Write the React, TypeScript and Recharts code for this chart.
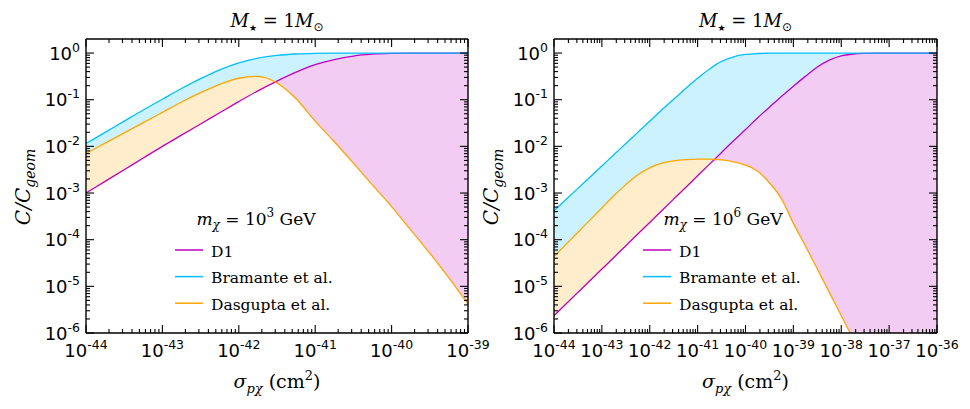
import React from 'react'
import { ComposedChart, Line, Area, XAxis, YAxis } from 'recharts'

// sigma_px grid, log10(cm^2), quarter decades
const sigmaLeft = [-44, -43.75, -43.5, -43.25, -43, -42.75, -42.5, -42.25, -42, -41.75, -41.5, -41.25, -41, -40.75, -40.5, -40.25, -40, -39.75, -39.5, -39.25, -39]
const sigmaRight = [-44, -43.75, -43.5, -43.25, -43, -42.75, -42.5, -42.25, -42, -41.75, -41.5, -41.25, -41, -40.75, -40.5, -40.25, -40, -39.75, -39.5, -39.25, -39, -38.75, -38.5, -38.25, -38, -37.75, -37.5, -37.25, -37, -36.75, -36.5, -36.25, -36]

// log10(C/Cgeom), m_chi = 1e3 GeV
const d1Left = [-3.0, -2.75, -2.5, -2.25, -2.0, -1.76, -1.52, -1.28, -1.04, -0.81, -0.6, -0.41, -0.25, -0.14, -0.065, -0.025, -0.008, -0.002, 0, 0, 0]
const bramanteLeft = [-1.94, -1.7, -1.46, -1.22, -0.99, -0.76, -0.55, -0.36, -0.21, -0.11, -0.05, -0.02, -0.007, -0.003, -0.001, 0, 0, 0, 0, 0, 0]
const dasguptaLeft = [-2.15, -1.93, -1.71, -1.49, -1.27, -1.05, -0.85, -0.67, -0.54, -0.5, -0.64, -0.98, -1.46, -1.9, -2.36, -2.83, -3.29, -3.79, -4.29, -4.82, -5.38]

// m_chi = 1e6 GeV
const d1Right = [-5.63, -5.38, -5.13, -4.88, -4.63, -4.38, -4.13, -3.88, -3.63, -3.38, -3.13, -2.88, -2.63, -2.38, -2.13, -1.88, -1.64, -1.39, -1.16, -0.93, -0.71, -0.5, -0.3, -0.15, -0.06, -0.02, -0.005, 0, 0, 0, 0, 0, 0]
const bramanteRight = [-3.38, -3.14, -2.9, -2.66, -2.42, -2.18, -1.94, -1.7, -1.46, -1.22, -0.99, -0.76, -0.54, -0.34, -0.18, -0.08, -0.03, -0.01, -0.003, 0, 0, 0, 0, 0, 0, 0, 0, 0, 0, 0, 0, 0, 0]
const dasguptaRight = [-4.36, -4.1, -3.84, -3.58, -3.32, -3.06, -2.82, -2.61, -2.46, -2.36, -2.31, -2.285, -2.275, -2.275, -2.29, -2.33, -2.4, -2.53, -2.78, -3.12, -3.65, -4.13, -4.63, -5.13, -5.63, -6.13, -6.65, -7.17, -7.69, -8.21, -8.73, -9.25, -9.77]

const decadesLeft = [-44, -43, -42, -41, -40, -39]
const decadesRight = [-44, -43, -42, -41, -40, -39, -38, -37, -36]
const decadesY = [-6, -5, -4, -3, -2, -1, 0]

const COLORS = {
  d1: '#bf00bf',
  bramante: '#00bfff',
  dasgupta: '#ffa500',
  d1Fill: '#f2ccf2',
  bramanteFill: '#ccf2ff',
  dasguptaFill: '#ffedcc',
}

const SANS = "'DejaVu Sans', sans-serif"
const SERIF = "'DejaVu Serif', serif"

const buildRows = (sig: number[], d1: number[], br: number[], dg: number[]) =>
  sig.map((s, i) => {
    const a = 10 ** d1[i]
    const b = 10 ** br[i]
    const c = 10 ** dg[i]
    return {
      x: 10 ** s,
      d1: a,
      bramante: b,
      dasgupta: c,
      blueBand: [Math.max(a, c), b],
      orangeBand: [a, Math.max(a, c)],
      magentaBand: [Math.min(a, c), a],
    }
  })

// majors plus 2..9 minors
const logTicks = (decades: number[]) => {
  const out: number[] = []
  decades.forEach((e, i) => {
    out.push(10 ** e)
    if (i < decades.length - 1) for (let m = 2; m <= 9; m++) out.push(m * 10 ** e)
  })
  return out
}

const isMajor = (v: number) => {
  const e = Math.log10(v)
  return Math.abs(e - Math.round(e)) < 1e-6
}

const Pow10 = ({ x, y, anchor, exp }: { x: number; y: number; anchor: string; exp: number }) => (
  <text x={x} y={y} textAnchor={anchor} style={{ fontFamily: SANS }} fontSize={18} fill="#000">
    <tspan>10</tspan>
    <tspan dy={-8} fontSize={12.5}>{String(exp)}</tspan>
  </text>
)

const makeTick = (side: 'bottom' | 'top' | 'left' | 'right') => (props: any) => {
  const { x, y, payload } = props
  const v = payload.value
  const major = isMajor(v)
  const len = major ? 8 : 4
  const exp = Math.round(Math.log10(v))
  if (side === 'bottom') {
    return (
      <g>
        <line x1={x} y1={y} x2={x} y2={y - len} stroke="#000" strokeWidth={1.1} />
        {major && <Pow10 x={x} y={y + 24} anchor="middle" exp={exp} />}
      </g>
    )
  }
  if (side === 'top') {
    return <line x1={x} y1={y} x2={x} y2={y + len} stroke="#000" strokeWidth={1.1} />
  }
  if (side === 'left') {
    return (
      <g>
        <line x1={x} y1={y} x2={x + len} y2={y} stroke="#000" strokeWidth={1.1} />
        {major && <Pow10 x={x - 6} y={y + 6.5} anchor="end" exp={exp} />}
      </g>
    )
  }
  return <line x1={x} y1={y} x2={x - len} y2={y} stroke="#000" strokeWidth={1.1} />
}

const frame = { stroke: '#000', strokeWidth: 1.4 }

interface PanelProps {
  rows: any[]
  decades: number[]
  width: number
  yAxisWidth: number
  margin: { top: number; right: number; bottom: number; left: number }
}

function Panel({ rows, decades, width, yAxisWidth, margin }: PanelProps) {
  const xTicks = logTicks(decades)
  const yTicks = logTicks(decadesY)
  const xDomain = [10 ** decades[0], 10 ** decades[decades.length - 1]]
  const yDomain = [1e-6, 2]
  return (
    <ComposedChart width={width} height={409} data={rows} margin={margin}>
      <XAxis xAxisId="b" dataKey="x" type="number" scale="log" domain={xDomain} allowDataOverflow
        ticks={xTicks} interval={0} tickSize={0} tickMargin={0} tickLine={false} axisLine={frame}
        height={40} tick={makeTick('bottom')} />
      <XAxis xAxisId="t" orientation="top" dataKey="x" type="number" scale="log" domain={xDomain} allowDataOverflow
        ticks={xTicks} interval={0} tickSize={0} tickMargin={0} tickLine={false} axisLine={frame}
        height={1} tick={makeTick('top')} />
      <YAxis yAxisId="l" type="number" scale="log" domain={yDomain} allowDataOverflow
        ticks={yTicks} interval={0} tickSize={0} tickMargin={0} tickLine={false} axisLine={frame}
        width={yAxisWidth} tick={makeTick('left')} />
      <YAxis yAxisId="r" orientation="right" type="number" scale="log" domain={yDomain} allowDataOverflow
        ticks={yTicks} interval={0} tickSize={0} tickMargin={0} tickLine={false} axisLine={frame}
        width={1} tick={makeTick('right')} />

      <Area xAxisId="b" yAxisId="l" dataKey="blueBand" type="monotone" stroke="none" fill={COLORS.bramanteFill} fillOpacity={1} isAnimationActive={false} />
      <Area xAxisId="b" yAxisId="l" dataKey="orangeBand" type="monotone" stroke="none" fill={COLORS.dasguptaFill} fillOpacity={1} isAnimationActive={false} />
      <Area xAxisId="b" yAxisId="l" dataKey="magentaBand" type="monotone" stroke="none" fill={COLORS.d1Fill} fillOpacity={1} isAnimationActive={false} />

      <Line xAxisId="b" yAxisId="l" dataKey="d1" type="monotone" stroke={COLORS.d1} strokeWidth={1.3} dot={false} isAnimationActive={false} />
      <Line xAxisId="b" yAxisId="l" dataKey="bramante" type="monotone" stroke={COLORS.bramante} strokeWidth={1.3} dot={false} isAnimationActive={false} />
      <Line xAxisId="b" yAxisId="l" dataKey="dasgupta" type="monotone" stroke={COLORS.dasgupta} strokeWidth={1.3} dot={false} isAnimationActive={false} />
      {/* keeps the mirrored top/right axes bound to data */}
      <Line xAxisId="t" yAxisId="r" dataKey="d1" stroke="none" dot={false} activeDot={false} isAnimationActive={false} />
    </ComposedChart>
  )
}

function Legend({ cx, lineX, mExp }: { cx: number; lineX: number; mExp: number }) {
  const items = [
    { name: 'D1', color: COLORS.d1 },
    { name: 'Bramante et al.', color: COLORS.bramante },
    { name: 'Dasgupta et al.', color: COLORS.dasgupta },
  ]
  return (
    <g style={{ fontFamily: SERIF }} fill="#000">
      <text x={cx} y={225} textAnchor="middle" fontSize={17}>
        <tspan fontStyle="italic">m</tspan>
        <tspan fontStyle="italic" fontSize={12} dy={4}>χ</tspan>
        <tspan dy={-4}> = 10</tspan>
        <tspan fontSize={12} dy={-8}>{mExp}</tspan>
        <tspan dy={8}> GeV</tspan>
      </text>
      {items.map((it, i) => (
        <g key={it.name}>
          <line x1={lineX} x2={lineX + 28} y1={250 + i * 26.6} y2={250 + i * 26.6} stroke={it.color} strokeWidth={1.5} />
          <text x={lineX + 36} y={256.5 + i * 26.6} fontSize={15.5}>{it.name}</text>
        </g>
      ))}
    </g>
  )
}

function Labels({ cx, ylabX }: { cx: number; ylabX: number }) {
  return (
    <g style={{ fontFamily: SERIF }} fill="#000">
      <text x={cx} y={27} textAnchor="middle" fontSize={18}>
        <tspan fontStyle="italic">M</tspan>
        <tspan fontSize={9} dy={4} style={{ fontFamily: SANS }}>★</tspan>
        <tspan dy={-4}> = 1</tspan>
        <tspan fontStyle="italic">M</tspan>
        <tspan fontSize={12} dy={4} style={{ fontFamily: SANS }}>⊙</tspan>
      </text>
      <text transform={`translate(${ylabX},187) rotate(-90)`} textAnchor="middle" fontSize={20} fontStyle="italic">
        <tspan>C/C</tspan>
        <tspan fontSize={14} dy={5}>geom</tspan>
      </text>
      <text x={cx} y={388} textAnchor="middle" fontSize={19}>
        <tspan fontStyle="italic">σ</tspan>
        <tspan fontStyle="italic" fontSize={13} dy={5}>pχ</tspan>
        <tspan dy={-5}> (cm</tspan>
        <tspan fontSize={13} dy={-8}>2</tspan>
        <tspan dy={8}>)</tspan>
      </text>
    </g>
  )
}

export default function App() {
  const rowsLeft = buildRows(sigmaLeft, d1Left, bramanteLeft, dasguptaLeft)
  const rowsRight = buildRows(sigmaRight, d1Right, bramanteRight, dasguptaRight)
  return (
    <div style={{ position: 'absolute', left: 0, top: 0, width: 970, height: 409, background: '#fff' }}>
      <div style={{ position: 'absolute', left: 0, top: 0 }}>
        <Panel rows={rowsLeft} decades={decadesLeft} width={510} yAxisWidth={70}
          margin={{ top: 38, right: 41, bottom: 36, left: 16 }} />
      </div>
      <div style={{ position: 'absolute', left: 485, top: 0 }}>
        <Panel rows={rowsRight} decades={decadesRight} width={485} yAxisWidth={60}
          margin={{ top: 38, right: 32, bottom: 36, left: 9 }} />
      </div>
      <svg width={970} height={409} style={{ position: 'absolute', left: 0, top: 0, pointerEvents: 'none' }}>
        <Labels cx={277} ylabX={30} />
        <Labels cx={745.5} ylabX={498} />
        <Legend cx={256} lineX={175} mExp={3} />
        <Legend cx={723} lineX={643} mExp={6} />
      </svg>
    </div>
  )
}
